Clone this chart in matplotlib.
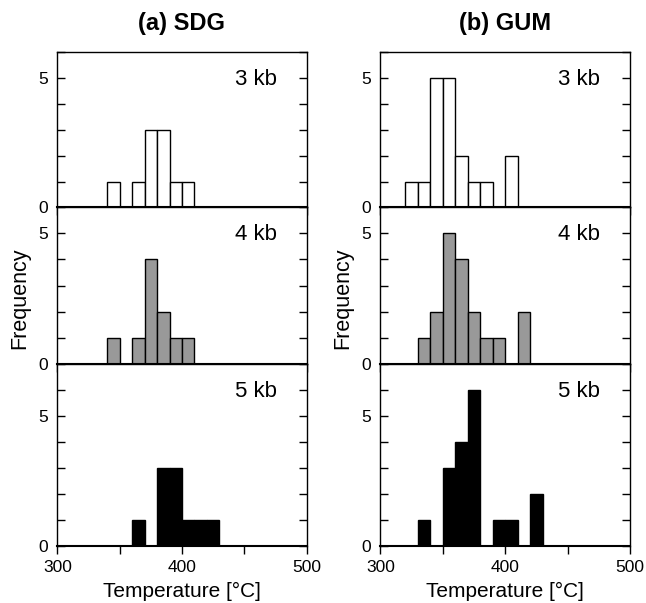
import matplotlib
matplotlib.use("Agg")
import matplotlib.pyplot as plt
from matplotlib.ticker import MultipleLocator, FixedLocator

plt.rcParams['font.family'] = ['Liberation Sans', 'DejaVu Sans']

# bin left edges (10 degC wide) and counts
sdg_3kb_bins = [340, 360, 370, 380, 390, 400]
sdg_3kb_counts = [1, 1, 3, 3, 1, 1]
sdg_4kb_bins = [340, 360, 370, 380, 390, 400]
sdg_4kb_counts = [1, 1, 4, 2, 1, 1]
sdg_5kb_bins = [360, 380, 390, 400, 410, 420]
sdg_5kb_counts = [1, 3, 3, 1, 1, 1]

gum_3kb_bins = [320, 330, 340, 350, 360, 370, 380, 400]
gum_3kb_counts = [1, 1, 5, 5, 2, 1, 1, 2]
gum_4kb_bins = [330, 340, 350, 360, 370, 380, 390, 410]
gum_4kb_counts = [1, 2, 5, 4, 2, 1, 1, 2]
gum_5kb_bins = [330, 350, 360, 370, 390, 400, 420]
gum_5kb_counts = [1, 3, 4, 6, 1, 1, 2]

titles = ["(a) SDG", "(b) GUM"]
pressures = ["3 kb", "4 kb", "5 kb"]
colors = ["white", "#999999", "black"]
ymax = [6, 6, 7]

data = [
    [(sdg_3kb_bins, sdg_3kb_counts), (sdg_4kb_bins, sdg_4kb_counts), (sdg_5kb_bins, sdg_5kb_counts)],
    [(gum_3kb_bins, gum_3kb_counts), (gum_4kb_bins, gum_4kb_counts), (gum_5kb_bins, gum_5kb_counts)],
]

fig = plt.figure(figsize=(6.46, 6.03), dpi=100)

col_x = [0.0887, 0.589]
col_w = 0.386
row_y = [0.656, 0.397, 0.095]
row_h = [0.257, 0.259, 0.301]

for c in range(2):
    for r in range(3):
        ax = fig.add_axes([col_x[c], row_y[r], col_w, row_h[r]])
        bins, counts = data[c][r]
        ax.bar(bins, counts, width=10, align='edge', color=colors[r],
               edgecolor='black', linewidth=1.0)
        ax.set_xlim(300, 500)
        ax.set_ylim(0, ymax[r])
        ax.xaxis.set_major_locator(FixedLocator([300, 400, 500]))
        ax.xaxis.set_minor_locator(FixedLocator([350, 450]))
        ax.yaxis.set_major_locator(FixedLocator([0, 5]))
        ax.yaxis.set_minor_locator(MultipleLocator(1))
        ax.tick_params(axis='y', which='both', direction='in', left=True, right=True,
                       length=5.5, width=1, labelsize=12.5, pad=7)
        ax.tick_params(axis='x', which='both', direction='out', length=5.5, width=1,
                       labelsize=12.5, pad=5)
        for s in ax.spines.values():
            s.set_linewidth(1.0)
        ax.spines['bottom'].set_linewidth(1.5)
        if r < 2:
            ax.tick_params(axis='x', labelbottom=False)
        else:
            ax.set_xlabel("Temperature [°C]", fontsize=15, labelpad=5)
        ax.annotate(pressures[r], xy=(1, 1), xycoords='axes fraction',
                    xytext=(-21.5, -19.5), textcoords='offset points',
                    ha='right', va='center', fontsize=16)
        if r == 0:
            ax.set_title(titles[c], fontsize=17, fontweight='bold', pad=16)

fig.text(0.031, 0.505, "Frequency", rotation=90, ha='center', va='center', fontsize=15.5)
fig.text(0.531, 0.505, "Frequency", rotation=90, ha='center', va='center', fontsize=15.5)

fig.savefig("out.png", dpi=100)
